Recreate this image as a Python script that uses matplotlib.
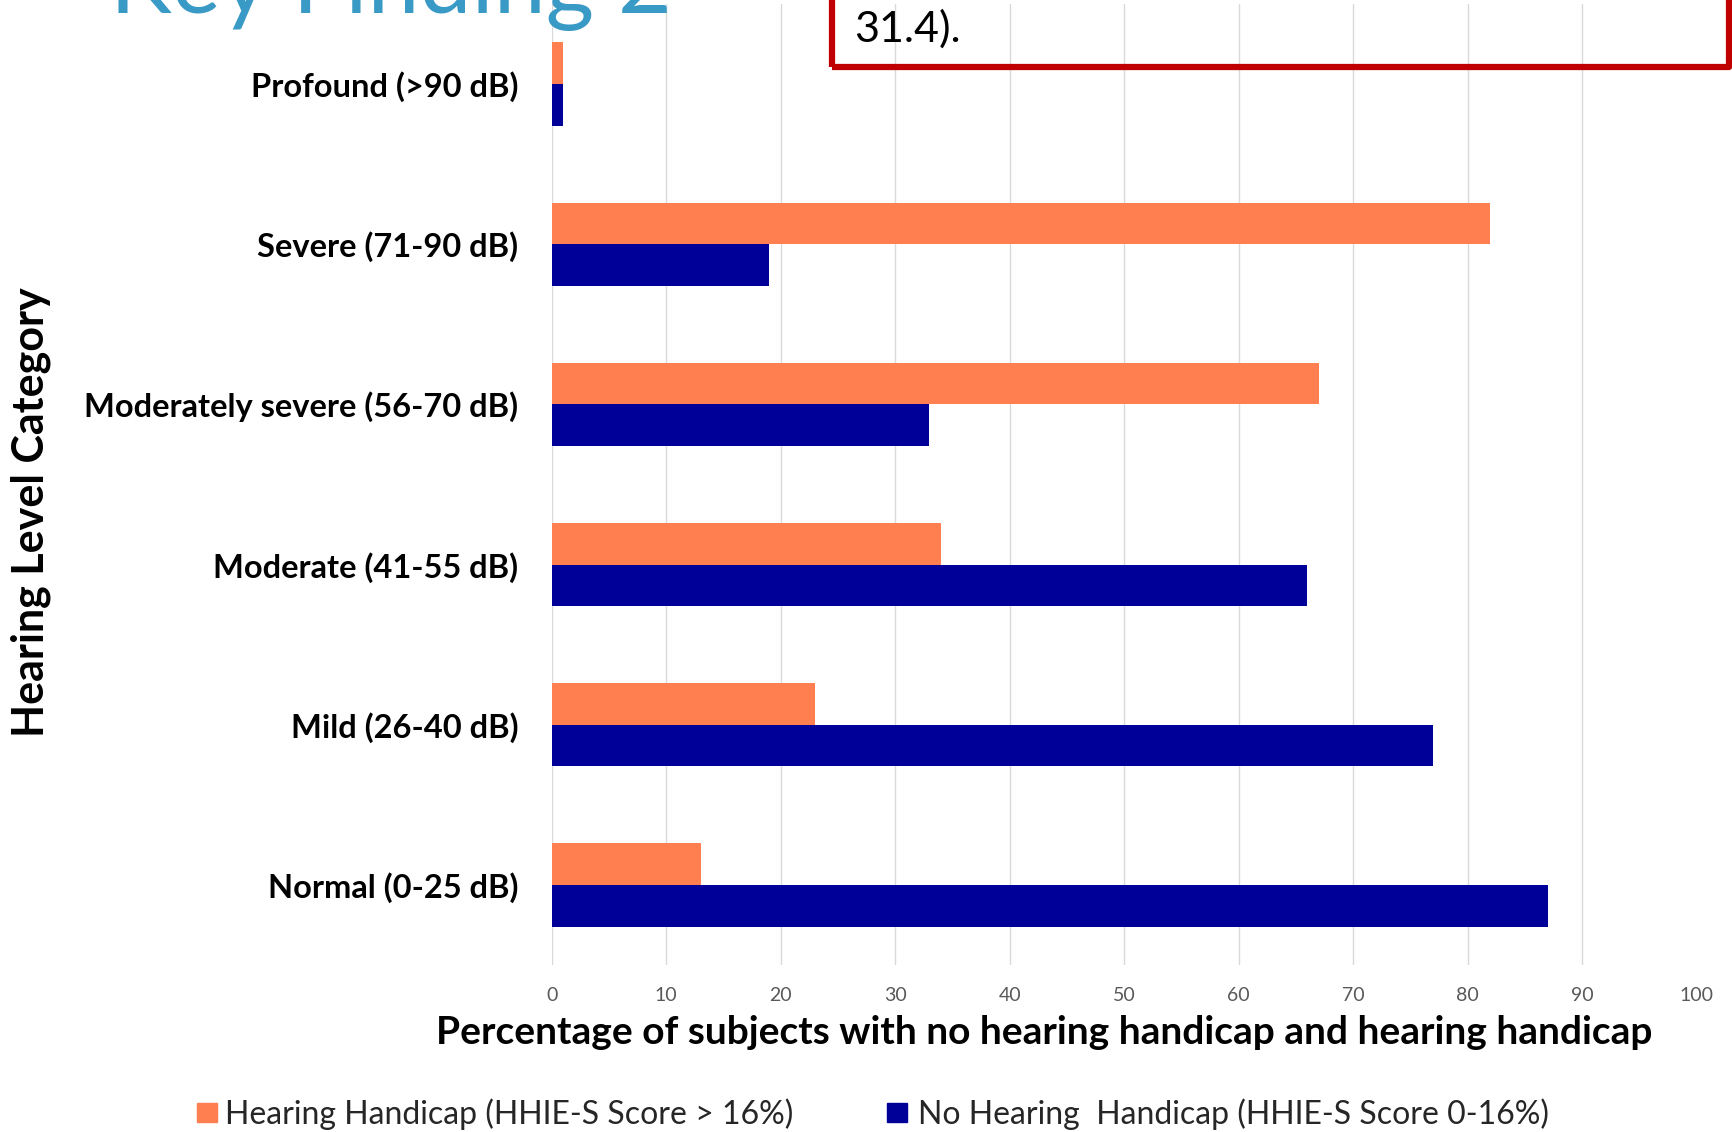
import matplotlib.pyplot as plt
from matplotlib.patches import Rectangle
import numpy as np

# bottom-to-top order, as drawn on the chart
categories = ['Normal (0-25 dB)', 'Mild (26-40 dB)', 'Moderate (41-55 dB)',
              'Moderately severe (56-70 dB)', 'Severe (71-90 dB)', 'Profound (>90 dB)']
handicap = [13, 23, 34, 67, 82, 1]
no_handicap = [87, 77, 66, 33, 19, 1]
series_labels = ['Hearing Handicap (HHIE-S Score > 16%)',
                 'No Hearing  Handicap (HHIE-S Score 0-16%)']
orange = '#FF7F50'
navy = '#000099'

W, H = 1732, 1132
fig = plt.figure(figsize=(W / 100, H / 100), dpi=100)
ax = fig.add_axes([551.7 / W, (H - 965) / H, (1696.5 - 551.7) / W, (965 - 4) / H])

y = np.arange(len(categories))
bh = 0.26
ax.barh(y + bh / 2, handicap, height=bh, color=orange, zorder=2)
ax.barh(y - bh / 2, no_handicap, height=bh, color=navy, zorder=2)

ax.set_xlim(0, 100)
ax.set_ylim(-0.5, len(categories) - 0.5)
ax.set_xticks(np.arange(0, 101, 10))
ax.set_yticks(y)
ax.set_yticklabels(categories, fontsize=23.5, fontweight='bold', family='Lato')
for lab in ax.get_xticklabels():
    lab.set_family('Lato')
ax.tick_params(axis='x', labelsize=14, labelcolor='#595959', length=0, pad=16)
ax.tick_params(axis='y', length=0, pad=24)
for s in ax.spines.values():
    s.set_visible(False)
for v in range(0, 100, 10):
    ax.axvline(v, color='#D9D9D9', lw=1, zorder=1)

fig.text(1044 / W, 1 - 1033 / H,
         'Percentage of subjects with no hearing handicap and hearing handicap',
         fontsize=28, fontweight='bold', family='Lato', ha='center', va='center')
fig.text(31 / W, 1 - 512 / H, 'Hearing Level Category', rotation=90, fontsize=31,
         fontweight='bold', family='Lato', ha='center', va='center')

# slide title (cut off at top) and red callout box
fig.text(110 / W, 1 - 13 / H, 'Key Finding 2', fontsize=67, color='#3A9AC6',
         family='Lato', ha='left', va='baseline')
fig.patches.append(Rectangle((832 / W, 1 - 67 / H), (1729 - 832) / W, 100 / H,
                             transform=fig.transFigure, fill=False, edgecolor='#C00000',
                             lw=4.5, joinstyle='round'))
fig.text(854 / W, 1 - 42 / H, '31.4).', fontsize=31, family='Lato', ha='left',
         va='baseline', color='black')

# legend
for (x0, xt, col, lab) in [(197, 225, orange, series_labels[0]), (887, 918, navy, series_labels[1])]:
    fig.patches.append(Rectangle((x0 / W, 1 - 1122 / H), 20 / W, 19 / H,
                                 transform=fig.transFigure, color=col))
    fig.text(xt / W, 1 - 1114 / H, lab, fontsize=23, family='Lato', color='#262626',
             ha='left', va='center')

fig.savefig('out.png', dpi=100)
